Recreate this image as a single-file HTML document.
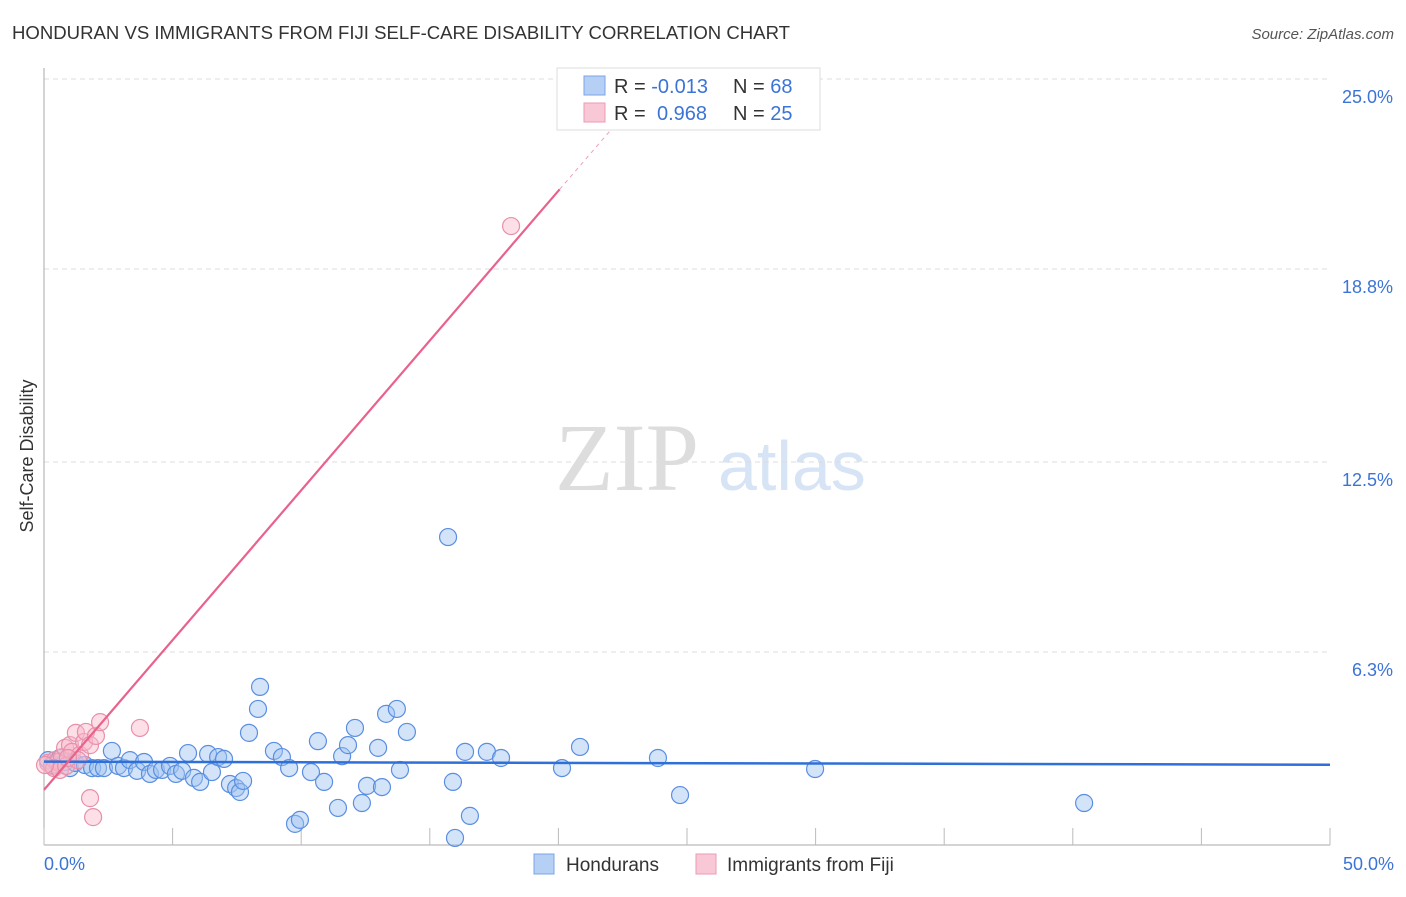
<!DOCTYPE html>
<html><head><meta charset="utf-8"><style>
body{margin:0;background:#fff;font-family:"Liberation Sans",sans-serif}
</style></head><body>
<svg id="c" width="1406" height="892" xmlns="http://www.w3.org/2000/svg" style="font-family:'Liberation Sans',sans-serif">
<text x="12" y="39" font-size="18" fill="#333" textLength="778" lengthAdjust="spacingAndGlyphs">HONDURAN VS IMMIGRANTS FROM FIJI SELF-CARE DISABILITY CORRELATION CHART</text>
<text x="1394" y="39" font-size="15" fill="#555" font-style="italic" text-anchor="end">Source: ZipAtlas.com</text>
<text x="33" y="456" font-size="18" fill="#333" text-anchor="middle" transform="rotate(-90 33 456)">Self-Care Disability</text>
<text x="555" y="490" font-size="96" fill="#ddd" font-family="Liberation Serif,serif">ZIP</text>
<text x="718" y="490" font-size="70" fill="#d6e4f5">atlas</text>
<g id="grid"></g><g id="axes"></g><g id="pts"></g><g id="trend"></g>
<rect x="557" y="68" width="263" height="62" fill="#fff" stroke="#ddd"/>
<rect x="584" y="76" width="21" height="19" fill="#b5cff5" stroke="#7aa6e6"/>
<rect x="584" y="103" width="21" height="19" fill="#f9c8d6" stroke="#eb9ab2"/>
<text x="614" y="93" font-size="20" fill="#333">R = <tspan fill="#3b74d6">-0.013</tspan><tspan x="733">N = </tspan><tspan fill="#3b74d6">68</tspan></text>
<text x="614" y="120" font-size="20" fill="#333">R = <tspan x="657" fill="#3b74d6">0.968</tspan><tspan x="733">N = </tspan><tspan fill="#3b74d6">25</tspan></text>
<rect x="534" y="854" width="20" height="20" fill="#b5cff5" stroke="#7aa6e6"/>
<text x="566" y="871" font-size="19" fill="#333">Hondurans</text>
<rect x="696" y="854" width="20" height="20" fill="#f9c8d6" stroke="#eb9ab2"/>
<text x="727" y="871" font-size="19" fill="#333">Immigrants from Fiji</text>
<text x="44" y="870" font-size="18" fill="#3b74d6">0.0%</text>
<text x="1394" y="870" font-size="18" fill="#3b74d6" text-anchor="end">50.0%</text>
</svg>
<script>
const yTicks=[25.0,18.8,12.5,6.3];
const yTickLabels=["25.0%","18.8%","12.5%","6.3%"];
const xTicks=[0,5,10,15,20,25,30,35,40,45,50];
const hX=[0.16,0.31,0.47,0.62,0.82,1.01,1.21,1.59,1.87,2.10,2.33,2.64,2.88,3.11,3.34,3.62,3.89,4.12,4.35,4.59,4.90,5.13,5.37,5.60,5.83,6.07,6.38,6.53,6.77,7.00,7.23,7.47,7.62,7.74,7.97,8.32,8.40,8.94,9.25,9.53,9.76,9.95,10.38,10.65,10.89,11.43,11.59,11.82,12.09,12.36,12.56,12.99,13.14,13.30,13.72,13.84,14.11,15.71,15.90,15.98,16.37,16.56,17.22,17.77,20.14,20.84,23.87,24.73,29.98,40.44];
const hY=[2.77,2.61,2.71,2.84,2.71,2.51,2.68,2.61,2.51,2.51,2.51,3.07,2.58,2.51,2.77,2.42,2.71,2.32,2.45,2.45,2.58,2.32,2.42,3.00,2.19,2.06,2.97,2.38,2.87,2.81,1.99,1.86,1.73,2.09,3.66,4.44,5.16,3.07,2.87,2.51,0.69,0.82,2.38,3.39,2.06,1.21,2.90,3.26,3.82,1.37,1.93,3.17,1.89,4.28,4.44,2.45,3.69,10.05,2.06,0.23,3.04,0.95,3.04,2.84,2.51,3.20,2.84,1.63,2.48,1.37];
const fX=[0.16,0.31,0.43,0.54,0.70,0.82,1.01,1.09,1.24,1.40,1.56,1.63,1.79,2.02,2.18,3.73,1.79,1.91,18.16,0.39,0.62,0.86,0.04,1.32,0.93];
const fY=[2.68,2.58,2.77,2.71,2.87,3.17,3.26,3.04,3.66,2.94,3.36,3.69,3.26,3.56,4.01,3.82,1.53,0.91,20.20,2.51,2.45,2.58,2.61,2.77,2.84];
const hTrend=[[0,2.72],[50,2.62]];
const fTrend=[[0,1.8],[20.05,21.4]];
const fTrendDash=[[20.05,21.4],[22.0,23.3]];
const X=v=>44+v*25.72, Y=v=>845-v*30.64;
const NS="http://www.w3.org/2000/svg";
function mk(t,a,p){const e=document.createElementNS(NS,t);for(const k in a)e.setAttribute(k,a[k]);p.appendChild(e);return e;}
const grid=document.getElementById('grid'),axes=document.getElementById('axes'),pts=document.getElementById('pts'),tr=document.getElementById('trend');
yTicks.forEach((v,i)=>{
 const l=mk('line',{x1:44,x2:1330,y1:Y(v),y2:Y(v),stroke:'#ddd','stroke-dasharray':'5,4'},grid);
 
 
 const t=mk('text',{x:1393,y:Y(v)+24,'font-size':18,fill:'#3b74d6','text-anchor':'end'},grid);
 t.textContent=yTickLabels[i];
 
 
});
const ax=mk('line',{x1:44,x2:44,y1:68,y2:845,stroke:'#aaa'},axes);


const bx=mk('line',{x1:44,x2:1330,y1:845,y2:845,stroke:'#aaa'},axes);


xTicks.forEach(v=>{
 const l=mk('line',{x1:X(v),x2:X(v),y1:828,y2:845,stroke:'#bbb'},axes);
 
 
});
hX.forEach((v,i)=>{
 const c=mk('circle',{cx:X(v),cy:Y(hY[i]),r:8.5,fill:'rgba(160,195,240,0.45)',stroke:'#5a8ee2','stroke-width':1.2},pts);
 
 
});
fX.forEach((v,i)=>{
 const c=mk('circle',{cx:X(v),cy:Y(fY[i]),r:8.5,fill:'rgba(248,185,202,0.45)',stroke:'#e890aa','stroke-width':1.2},pts);
 
 
});
const hl=mk('line',{x1:X(hTrend[0][0]),y1:Y(hTrend[0][1]),x2:X(hTrend[1][0]),y2:Y(hTrend[1][1]),stroke:'#2f6fd8','stroke-width':2.5},tr);


const fl=mk('line',{x1:X(fTrend[0][0]),y1:Y(fTrend[0][1]),x2:X(fTrend[1][0]),y2:Y(fTrend[1][1]),stroke:'#e8628c','stroke-width':2.2},tr);


const fd=mk('line',{x1:X(fTrendDash[0][0]),y1:Y(fTrendDash[0][1]),x2:X(fTrendDash[1][0]),y2:Y(fTrendDash[1][1]),stroke:'#f0a0b8','stroke-width':1,'stroke-dasharray':'4,4'},tr);


</script>
</body></html>
